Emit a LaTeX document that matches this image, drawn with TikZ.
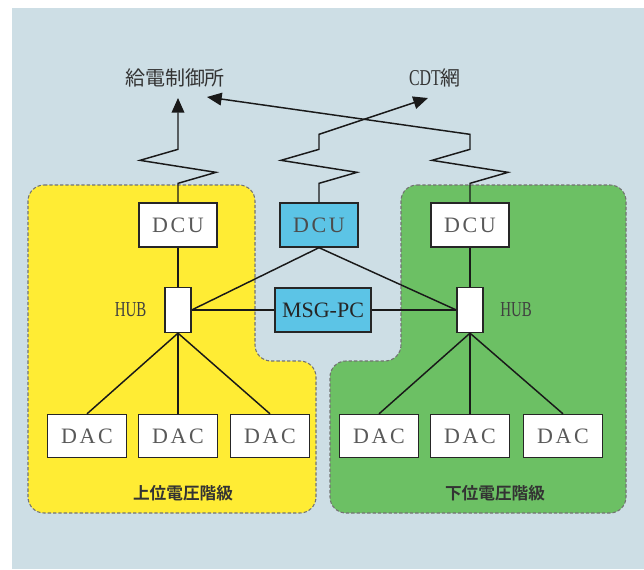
\documentclass[tikz,border=0pt]{standalone}
\usepackage{fontspec}
\usepackage{tikz}
\usetikzlibrary{calc,positioning}
\usetikzlibrary{arrows.meta}
\tikzset{>={Triangle[length=11pt,width=9.5pt]}}

\setmainfont{Liberation Serif}
\newfontfamily\boxfont[LetterSpace=12]{Liberation Serif}
\newfontfamily\hubfont[FakeStretch=0.7]{Liberation Serif}
\newfontfamily\cjk{Noto Sans CJK JP}
\newfontfamily\cjkbold{Noto Sans CJK JP Bold}

\definecolor{bgblue}{RGB}{205,222,229}
\definecolor{upperyellow}{RGB}{255,236,52}
\definecolor{lowergreen}{RGB}{108,192,100}
\definecolor{pcblue}{RGB}{92,196,230}

\begin{document}
\begin{tikzpicture}[x=0.75pt,y=-0.75pt]
  \useasboundingbox (0,0) rectangle (644,569);
  \begin{scope}
    \tikzstyle{region} = [draw=black!55, line width=0.8pt, dash pattern=on 2.5pt off 1.5pt, rounded corners=12pt]
    \tikzstyle{unode} = [draw=black!85, line width=1pt, fill=white, inner sep=0pt, minimum width=58.5pt, minimum height=33pt, font=\boxfont\fontsize{16.5}{16.5}\selectfont, text=black!65]
    \tikzstyle{bnode} = [unode, fill=pcblue, text=black!70]
    \tikzstyle{hnode} = [draw=black!85, line width=1pt, fill=white, inner sep=0pt, minimum width=19.5pt, minimum height=33.75pt]
    \tikzstyle{hlabel} = [font=\hubfont\fontsize{16}{16}\selectfont, text=black!75]
    \tikzstyle{wire} = [line width=1.1pt, draw=black!90]

    % background and the two voltage levels
    \fill[bgblue] (12,8) rectangle (644,569);
    \path[region, fill=upperyellow]
      (28,185) -- (255,185) -- (255,361) -- (316,361) -- (316,513) -- (28,513) -- cycle;
    \path[region, fill=lowergreen]
      (401,185) -- (626,185) -- (626,513) -- (330,513) -- (330,361) -- (401,361) -- cycle;

    \node[font=\cjkbold\fontsize{12.5}{12.5}\selectfont, text=black!80] (upper) at (183,493) {上位電圧階級};
    \node[font=\cjkbold\fontsize{12.5}{12.5}\selectfont, text=black!80] (lower) at (495,493) {下位電圧階級};

    % control units
    \node[unode] (dcuL) at (178,225) {DCU};
    \node[bnode] (dcuM) at (319,225) {DCU};
    \node[unode] (dcuR) at (470,225) {DCU};

    % hubs and message pc
    \node[hnode] (hubL) at (178,310) {};
    \node[hlabel, left=10pt of hubL] {HUB};
    \node[hnode] (hubR) at (470,310) {};
    \node[hlabel, right=9pt of hubR] {HUB};
    \node[bnode, minimum width=72pt, font=\fontsize{16.5}{16.5}\selectfont, text=black!85] (msg) at (323,310) {MSG-PC};

    % acquisition units
    \node[unode, minimum width=59.25pt, minimum height=32.25pt] (dacL1) at (87,436) {DAC};
    \node[unode, minimum width=59.25pt, minimum height=32.25pt] (dacL2) at (178,436) {DAC};
    \node[unode, minimum width=59.25pt, minimum height=32.25pt] (dacL3) at (270,436) {DAC};
    \node[unode, minimum width=59.25pt, minimum height=32.25pt] (dacR1) at (379,436) {DAC};
    \node[unode, minimum width=59.25pt, minimum height=32.25pt] (dacR2) at (470,436) {DAC};
    \node[unode, minimum width=59.25pt, minimum height=32.25pt] (dacR3) at (563,436) {DAC};

    % remote ends
    \node[font=\cjk\fontsize{15}{15}\selectfont, text=black!80] (ctrl) at (175,78) {給電制御所};
    \node[font=\fontsize{17}{17}\selectfont, text=black!80] (cdt) at (435,78) {{\hubfont CDT}{\cjk\fontsize{15}{15}\selectfont 網}};
    \coordinate (tipL) at (178,98);
    \coordinate (tipM) at (428,98);
    \coordinate (tipR) at (207,97);

    \path[wire]
    (dcuL) edge (hubL)
    (dcuR) edge (hubR)
    (dcuM.south) edge (hubL.east)
    (dcuM.south) edge (hubR.west)
    (hubL) edge (msg)
    (msg) edge (hubR)

    (hubL.south) edge (dacL1.north)
    (hubL.south) edge (dacL2.north)
    (hubL.south) edge (dacL3.north)
    (hubR.south) edge (dacR1.north)
    (hubR.south) edge (dacR2.north)
    (hubR.south) edge (dacR3.north)
    ;

    % transmission lines with zigzag
    \draw[wire, ->] (dcuL.north) -- ++(0,-19) -- ++(38,-11) -- ++(-76,-12) -- ++(38,-11) -- (tipL);
    \draw[wire, ->] (dcuM.north) -- ++(0,-19) -- ++(38,-11) -- ++(-76,-12) -- ++(38,-11) -- ++(0,-15) -- (tipM);
    \draw[wire, ->] (dcuR.north) -- ++(0,-19) -- ++(38,-11) -- ++(-76,-12) -- ++(38,-11) -- ++(0,-15) -- (tipR);
  \end{scope}
\end{tikzpicture}
\end{document}
